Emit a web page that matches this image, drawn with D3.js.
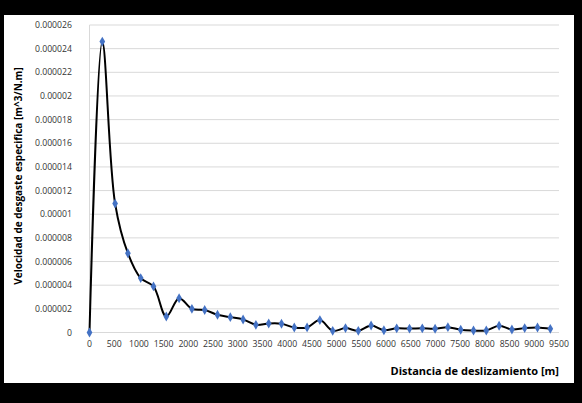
<!DOCTYPE html>
<html>
<head>
<meta charset="utf-8">
<script src="https://cdn.jsdelivr.net/npm/d3@7"></script>
<style>
  body { margin: 0; background: #000; }
  svg { display: block; }
  text { font-family: "Open Sans", sans-serif; }
</style>
</head>
<body>
<div id="container"></div>
<script>
// distances [m] and specific wear rate [m^3/N.m]
const distances = [0, 259, 518, 777, 1036, 1295, 1554, 1813, 2072, 2331, 2590, 2849, 3108, 3367,
  3626, 3885, 4144, 4403, 4662, 4921, 5180, 5439, 5698, 5957, 6216, 6475, 6734, 6993, 7252,
  7511, 7770, 8029, 8288, 8547, 8806, 9065, 9324];
const wearRates = [0, 0.0000246, 0.0000109, 0.0000067, 0.0000046, 0.0000039, 0.00000135, 0.0000029,
  0.0000020, 0.0000019, 0.0000015, 0.0000013, 0.0000011, 0.00000065, 0.00000076, 0.00000074,
  0.00000042, 0.00000043, 0.00000105, 0.00000014, 0.00000037, 0.00000014, 0.00000059, 0.00000019,
  0.00000035, 0.00000033, 0.00000035, 0.00000032, 0.00000045, 0.00000023, 0.00000017, 0.00000017,
  0.00000057, 0.00000025, 0.00000037, 0.00000042, 0.00000031];
const yTicks = [0, 0.000002, 0.000004, 0.000006, 0.000008, 0.00001, 0.000012, 0.000014,
  0.000016, 0.000018, 0.00002, 0.000022, 0.000024, 0.000026];
const yTickLabels = ['0', '0.000002', '0.000004', '0.000006', '0.000008', '0.00001', '0.000012',
  '0.000014', '0.000016', '0.000018', '0.00002', '0.000022', '0.000024', '0.000026'];
const xTicks = [0, 500, 1000, 1500, 2000, 2500, 3000, 3500, 4000, 4500, 5000, 5500, 6000, 6500,
  7000, 7500, 8000, 8500, 9000, 9500];

const width = 582, height = 403;
const svg = d3.select('#container').append('svg')
  .attr('width', width)
  .attr('height', height);

// black frame with white chart area
svg.append('rect').attr('width', width).attr('height', height).attr('fill', '#000');
svg.append('rect')
  .attr('x', 4).attr('y', 15)
  .attr('width', 570).attr('height', 368)
  .attr('fill', '#fff');

const x = d3.scaleLinear().domain([0, 9500]).range([89.5, 559]);
const y = d3.scaleLinear().domain([0, 0.000026]).range([332.5, 25]);

// horizontal gridlines
svg.append('g')
  .selectAll('line')
  .data(yTicks)
  .enter().append('line')
  .attr('x1', x(0)).attr('x2', x(9500))
  .attr('y1', d => y(d)).attr('y2', d => y(d))
  .attr('stroke', '#d9d9d9')
  .attr('stroke-width', 1);

// vertical axis line
svg.append('line')
  .attr('x1', x(0)).attr('x2', x(0))
  .attr('y1', y(0)).attr('y2', y(0.000026))
  .attr('stroke', '#d9d9d9');

// y tick labels
svg.append('g')
  .selectAll('text')
  .data(yTicks)
  .enter().append('text')
  .attr('x', 72)
  .attr('y', d => y(d) + 3)
  .attr('text-anchor', 'end')
  .attr('font-size', '8.7px')
  .attr('fill', '#333')
  .text((d, i) => yTickLabels[i]);

// x tick labels
svg.append('g')
  .selectAll('text')
  .data(xTicks)
  .enter().append('text')
  .attr('x', d => x(d))
  .attr('y', 347)
  .attr('text-anchor', 'middle')
  .attr('font-size', '8.7px')
  .attr('fill', '#333')
  .text(d => d);

const points = distances.map((d, i) => [d, wearRates[i]]);

const line = d3.line()
  .x(d => x(d[0]))
  .y(d => y(d[1]))
  .curve(d3.curveCatmullRom.alpha(0.5));

svg.append('path')
  .datum(points)
  .attr('d', line)
  .attr('fill', 'none')
  .attr('stroke', '#000')
  .attr('stroke-width', 2);

// diamond markers
svg.append('g')
  .selectAll('path')
  .data(points)
  .enter().append('path')
  .attr('transform', d => `translate(${x(d[0])},${y(d[1])})`)
  .attr('d', d3.symbol(d3.symbolDiamond, 28))
  .attr('fill', '#4472c4');

// axis titles
svg.append('text')
  .attr('x', 559)
  .attr('y', 375)
  .attr('text-anchor', 'end')
  .attr('font-size', '11px')
  .attr('font-weight', 'bold')
  .attr('fill', '#000')
  .text('Distancia de deslizamiento [m]');

svg.append('text')
  .attr('transform', 'translate(22,176) rotate(-90)')
  .attr('text-anchor', 'middle')
  .attr('font-size', '10px')
  .attr('font-weight', 'bold')
  .attr('fill', '#000')
  .text('Velocidad de desgaste especifica [m^3/N.m]');
</script>
</body>
</html>
